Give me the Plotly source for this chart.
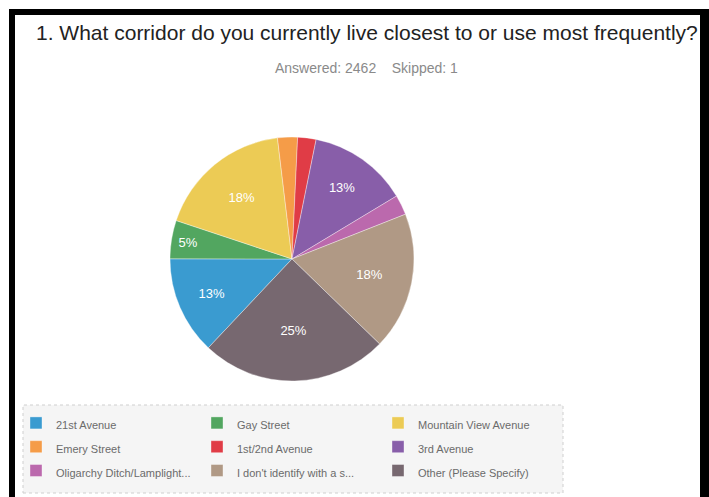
import plotly.graph_objects as go

W, H = 709, 497

categories = ["21st Avenue", "Gay Street", "Mountain View Avenue",
              "Emery Street", "1st/2nd Avenue", "3rd Avenue",
              "Oligarchy Ditch/Lamplight...", "I don't identify with a s...",
              "Other (Please Specify)"]
responses = [320, 125, 443, 65, 60, 325, 65, 449, 610]
colors = ["#3a9bd0", "#52a660", "#eccb55", "#f59c48", "#e03c46",
          "#885ea9", "#bb69ad", "#b09985", "#776870"]

title_text = "1. What corridor do you currently live closest to or use most frequently?"
subtitle_text = "Answered: 2462&nbsp;&nbsp;&nbsp;&nbsp;Skipped: 1"


def px(x):
    return x / W


def py(y):
    return 1 - y / H


total = sum(responses)
texttemplates = ["%{percent:.0%}" if v / total >= 0.04 else "" for v in responses]
legend_labels = ['<span style="font-size:11px">%s</span>' % c for c in categories]

fig = go.Figure(go.Pie(
    labels=legend_labels,
    values=responses,
    sort=False,
    direction="clockwise",
    rotation=223.3,
    marker=dict(colors=colors, line=dict(color="rgba(255,255,255,0.6)", width=0.6)),
    texttemplate=texttemplates,
    textposition="inside",
    insidetextorientation="horizontal",
    textfont=dict(color="white", size=13, family="Liberation Sans, Arial, sans-serif"),
    domain=dict(x=[px(170), px(414)], y=[py(381), py(137)]),
    hoverinfo="skip",
))

shapes = [
    # legend box
    dict(type="rect", xref="paper", yref="paper",
         x0=px(23), x1=px(563), y0=py(493), y1=py(405),
         fillcolor="#f5f5f5", line=dict(color="#cfcfcf", width=1, dash="dot"),
         layer="below"),
    # black frame
    dict(type="rect", xref="paper", yref="paper", x0=px(9), x1=px(15), y0=0, y1=py(9),
         fillcolor="black", line=dict(width=0)),
    dict(type="rect", xref="paper", yref="paper", x0=px(9), x1=1, y0=py(15), y1=py(9),
         fillcolor="black", line=dict(width=0)),
    dict(type="rect", xref="paper", yref="paper", x0=px(700), x1=1, y0=0, y1=py(9),
         fillcolor="black", line=dict(width=0)),
]

annotations = [
    dict(text=title_text, x=px(367), y=py(33), xref="paper", yref="paper",
         showarrow=False, xanchor="center", yanchor="middle",
         font=dict(size=21, color="#222222", family="Liberation Sans, Arial, sans-serif")),
    dict(text=subtitle_text, x=px(366), y=py(68), xref="paper", yref="paper",
         showarrow=False, xanchor="center", yanchor="middle",
         font=dict(size=14, color="#8a8a8a", family="Liberation Sans, Arial, sans-serif")),
]

fig.update_layout(
    width=W, height=H,
    margin=dict(l=0, r=0, t=0, b=0),
    paper_bgcolor="white",
    plot_bgcolor="white",
    showlegend=True,
    legend=dict(orientation="h", x=px(16), y=py(406), xanchor="left", yanchor="top",
                bgcolor="rgba(0,0,0,0)", entrywidth=136, entrywidthmode="pixels",
                font=dict(size=16, color="#6b6b6b", family="Liberation Sans, Arial, sans-serif"),
                traceorder="normal"),
    shapes=shapes,
    annotations=annotations,
)

fig.write_html("out.html",
               config=dict(displayModeBar=False),
               post_script="document.body.style.margin='0px';document.body.style.overflow='hidden';")
